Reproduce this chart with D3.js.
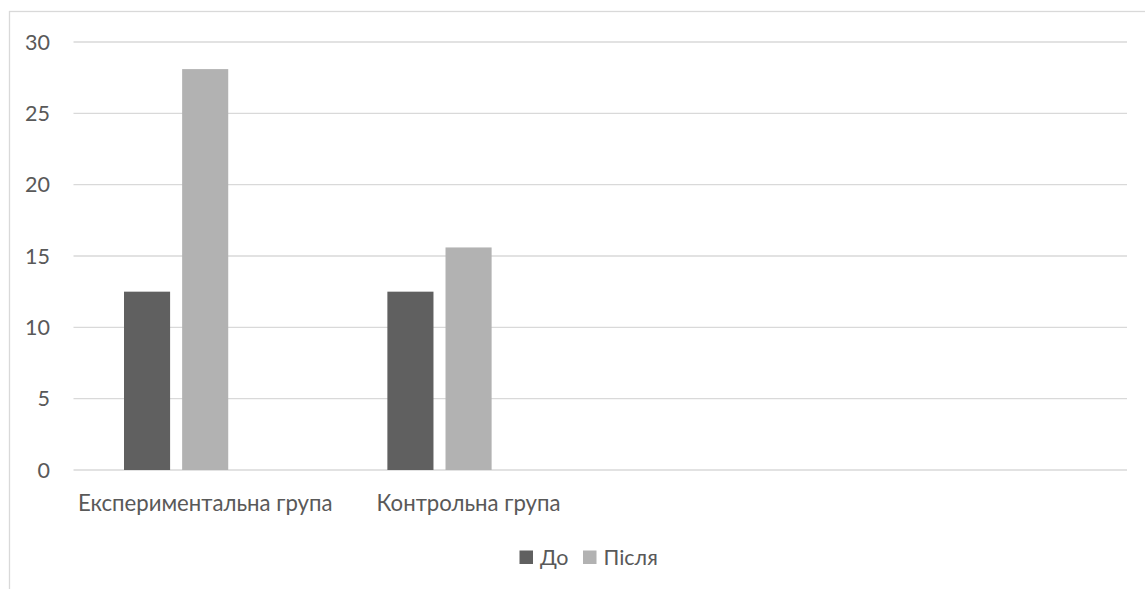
<!DOCTYPE html>
<html>
<head>
<meta charset="utf-8">
<script src="https://cdn.jsdelivr.net/npm/d3@7"></script>
<style>
  html, body { margin: 0; padding: 0; background: #ffffff; }
  svg { display: block; }
  text { font-family: Lato, "Open Sans", sans-serif; fill: #595959; }
</style>
</head>
<body>
<svg id="chart" width="1145" height="589"></svg>
<script>
// Category slots along the x axis (the last two are unlabeled)
const categories = ["Експериментальна група", "Контрольна група", "", ""];
// Series names shown in the legend
const seriesNames = ["До", "Після"];
// Values per series, one per labeled category
const seriesBefore = [12.5, 12.5];
const seriesAfter = [28.1, 15.6];
// Y axis ticks
const yTicks = [0, 5, 10, 15, 20, 25, 30];

const colors = ["#606060", "#b2b2b2"];
const seriesValues = [seriesBefore, seriesAfter];

const W = 1145, H = 589;
const margin = { left: 73.5, right: 18, top: 42, bottom: 119 };

const svg = d3.select("#chart");

// chart frame (light border along top and left)
svg.append("rect")
  .attr("x", 9.5).attr("y", 11.5)
  .attr("width", W + 20).attr("height", H + 20)
  .attr("fill", "none")
  .attr("stroke", "#d9d9d9")
  .attr("stroke-width", 1.3);

const x0 = d3.scaleBand()
  .domain(d3.range(categories.length))
  .range([margin.left, W - margin.right])
  .paddingInner(0).paddingOuter(0);

// three bar slots per group, the third stays empty
const groupPad = 50.5;
const x1 = d3.scaleBand()
  .domain(d3.range(3))
  .range([groupPad, x0.bandwidth() - groupPad])
  .paddingInner(0.207).paddingOuter(0);

const y = d3.scaleLinear()
  .domain([0, 30])
  .range([H - margin.bottom, margin.top]);

// gridlines
svg.append("g")
  .selectAll("line")
  .data(yTicks)
  .join("line")
  .attr("x1", margin.left)
  .attr("x2", W - margin.right)
  .attr("y1", d => y(d))
  .attr("y2", d => y(d))
  .attr("stroke", "#d9d9d9")
  .attr("stroke-width", 1.3);

// y tick labels
svg.append("g")
  .selectAll("text")
  .data(yTicks)
  .join("text")
  .attr("x", 50)
  .attr("y", d => y(d))
  .attr("dy", "0.35em")
  .attr("text-anchor", "end")
  .attr("font-size", 21.5)
  .text(d => d);

// bars
const bars = [];
seriesValues.forEach((vals, si) => {
  vals.forEach((v, ci) => bars.push({ si, ci, v }));
});

svg.append("g")
  .selectAll("rect")
  .data(bars)
  .join("rect")
  .attr("x", d => x0(d.ci) + x1(d.si))
  .attr("width", x1.bandwidth())
  .attr("y", d => y(d.v))
  .attr("height", d => y(0) - y(d.v))
  .attr("fill", d => colors[d.si]);

// category labels
svg.append("g")
  .selectAll("text")
  .data(categories)
  .join("text")
  .attr("x", (d, i) => x0(i) + x0.bandwidth() / 2)
  .attr("y", 503)
  .attr("dy", "0.35em")
  .attr("text-anchor", "middle")
  .attr("font-size", 22.2)
  .text(d => d);

// legend
const legendItems = [
  { name: seriesNames[0], color: colors[0], x: 519.5 },
  { name: seriesNames[1], color: colors[1], x: 583 }
];
const lg = svg.append("g");
legendItems.forEach(it => {
  lg.append("rect")
    .attr("x", it.x).attr("y", 550.5)
    .attr("width", 13.5).attr("height", 13.5)
    .attr("fill", it.color);
  lg.append("text")
    .attr("x", it.x + 20.5)
    .attr("y", 557)
    .attr("dy", "0.35em")
    .attr("font-size", 21.5)
    .text(it.name);
});
</script>
</body>
</html>
